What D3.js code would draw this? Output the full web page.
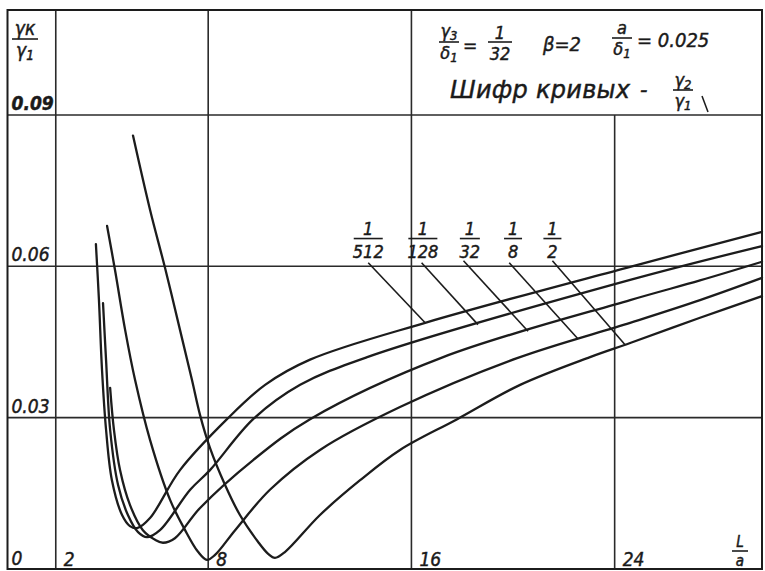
<!DOCTYPE html>
<html>
<head>
<meta charset="utf-8">
<script src="https://cdn.jsdelivr.net/npm/d3@7"></script>
<style>
  html, body { margin: 0; padding: 0; background: #fff; }
  svg { display: block; }
  text { font-family: "DejaVu Sans Condensed", "DejaVu Sans", sans-serif; font-style: italic; fill: #1a1a1a; stroke: #1a1a1a; stroke-width: 0.45px; }
</style>
</head>
<body>
<svg id="chart" width="765" height="571"></svg>
<script>
// Axis extent and grid positions (L/a horizontally, γк/γ1 vertically)
const xDomain = [0.1, 29.8];
const yDomain = [0, 0.1108];
const xGrid = [2, 8, 16];          // full-height verticals
const xGridLower = [24];           // verticals below the caption box
const yGrid = [0.03, 0.06, 0.09];
const xTickLabels = ["2", "8", "16", "24"];
const xTickValues = [2, 8, 16, 24];
const yTickLabels = ["0", "0.03", "0.06", "0.09"];
const yTickValues = [0, 0.03, 0.06, 0.09];

// Curve cipher γ2/γ1 (denominators of 1/n)
const seriesNames = ["1/512", "1/128", "1/32", "1/8", "1/2"];
const seriesDen = ["512", "128", "32", "8", "2"];

// [L/a, γк/γ1] points for each curve
const curve512 = [[3.58,0.0644],[3.70,0.0533],[3.82,0.0395],[3.98,0.0276],[4.21,0.0176],[4.61,0.0107],[4.92,0.0085],[5.20,0.0081],[5.71,0.0101],[6.89,0.0196],[8.74,0.0297],[10.24,0.0365],[12.01,0.0415],[16.54,0.0488],[24.61,0.0599],[29.8,0.0668]];
const curve128 = [[3.86,0.0527],[3.98,0.0414],[4.14,0.0276],[4.45,0.0167],[4.84,0.0107],[5.24,0.0073],[5.59,0.0063],[6.10,0.0077],[7.29,0.0157],[8.07,0.0196],[9.77,0.0297],[11.62,0.0365],[14.26,0.0420],[24.61,0.0573],[29.8,0.0640]];
const curve32 = [[4.14,0.0359],[4.29,0.0276],[4.53,0.0196],[4.92,0.0127],[5.43,0.0077],[5.91,0.0058],[6.22,0.0052],[6.69,0.0061],[7.68,0.0121],[9.77,0.0216],[12.01,0.0297],[17.25,0.0420],[24.61,0.0533],[27.36,0.0572],[29.8,0.0609]];
const curve8 = [[4.02,0.0680],[4.33,0.0593],[4.73,0.0474],[5.12,0.0375],[5.71,0.0256],[6.50,0.0137],[7.09,0.0077],[7.60,0.0034],[7.95,0.0018],[8.27,0.0028],[9.06,0.0077],[10.43,0.0157],[12.40,0.0236],[15.55,0.0321],[20.16,0.0418],[24.61,0.0488],[27.36,0.0533],[29.8,0.0577]];
const curve2 = [[5.04,0.0859],[5.71,0.0712],[6.30,0.0597],[6.89,0.0474],[7.36,0.0375],[7.68,0.0305],[8.07,0.0240],[8.66,0.0167],[9.25,0.0107],[9.96,0.0054],[10.36,0.0030],[10.63,0.0022],[11.03,0.0034],[12.40,0.0107],[13.98,0.0176],[15.55,0.0236],[17.80,0.0297],[20.28,0.0365],[23.03,0.0420],[24.61,0.0448],[27.36,0.0498],[29.8,0.0541]];
const curves = [curve512, curve128, curve32, curve8, curve2];

// Label anchors (fraction centre, bar height) and where each leader meets its curve
const labelX = [14.3, 16.45, 18.3, 20.0, 21.55];
const labelY = 0.0655;
const leaderStartX = [14.3, 16.4, 18.05, 19.85, 21.55];
const leaderStartY = [0.0607, 0.0607, 0.0611, 0.0607, 0.0611];
const leaderEndX = [16.54, 18.62, 20.59, 22.56, 24.41];

const svg = d3.select("#chart");
const x = d3.scaleLinear().domain(xDomain).range([7.5, 762]);
const y = d3.scaleLinear().domain(yDomain).range([569, 10]);
const ink = "#1c1c1c";

// Grid
const grid = svg.append("g").attr("stroke", "#2a2a2a").attr("stroke-width", 1.6);
grid.selectAll("line.gx").data(xGrid).join("line")
  .attr("x1", d => x(d)).attr("x2", d => x(d))
  .attr("y1", y(yDomain[0])).attr("y2", y(yDomain[1]));
grid.selectAll("line.gx2").data(xGridLower).join("line")
  .attr("x1", d => x(d)).attr("x2", d => x(d))
  .attr("y1", y(yDomain[0])).attr("y2", y(0.09));
grid.selectAll("line.gy").data(yGrid).join("line")
  .attr("x1", x(xDomain[0])).attr("x2", x(xDomain[1]))
  .attr("y1", d => y(d)).attr("y2", d => y(d));

// Frame
svg.append("rect")
  .attr("x", x(xDomain[0])).attr("y", y(yDomain[1]))
  .attr("width", x(xDomain[1]) - x(xDomain[0]))
  .attr("height", y(yDomain[0]) - y(yDomain[1]))
  .attr("fill", "none").attr("stroke", ink).attr("stroke-width", 2);

// Curves
const line = d3.line().x(d => x(d[0])).y(d => y(d[1])).curve(d3.curveCatmullRom.alpha(0.5));
svg.append("g").selectAll("path").data(curves).join("path")
  .attr("d", line).attr("fill", "none").attr("stroke", ink)
  .attr("stroke-width", 2.3).attr("stroke-linejoin", "round").attr("stroke-linecap", "round");

// Curve value at an x, by linear interpolation of its points
function valueAt(pts, xv) {
  for (let i = 1; i < pts.length; i++) {
    if (pts[i][0] >= xv && pts[i - 1][0] <= xv) {
      const t = (xv - pts[i - 1][0]) / (pts[i][0] - pts[i - 1][0]);
      return pts[i - 1][1] + t * (pts[i][1] - pts[i - 1][1]);
    }
  }
  return pts[pts.length - 1][1];
}

// Text with an optional lowered index, e.g. γ + 1
function indexed(sel, base, sub, fs) {
  sel.append("tspan").text(base);
  if (sub) sel.append("tspan").attr("font-size", fs * 0.72).attr("dy", fs * 0.18).text(sub);
  return sel;
}

// Stacked fraction: top over bar over bottom
function frac(g, cx, barY, top, bottom, w, fs, gapTop = 4, gapBottom = fs) {
  g.append("line").attr("x1", cx - w / 2).attr("x2", cx + w / 2)
    .attr("y1", barY).attr("y2", barY).attr("stroke", ink).attr("stroke-width", 1.6);
  const t = g.append("text").attr("x", cx).attr("y", barY - gapTop).attr("text-anchor", "middle")
    .attr("font-size", fs);
  indexed(t, top[0], top[1], fs);
  const b = g.append("text").attr("x", cx).attr("y", barY + gapBottom).attr("text-anchor", "middle")
    .attr("font-size", fs);
  indexed(b, bottom[0], bottom[1], fs);
}

// Leaders and curve labels
const lab = svg.append("g");
seriesNames.forEach((name, i) => {
  lab.append("line")
    .attr("x1", x(leaderStartX[i])).attr("y1", y(leaderStartY[i]))
    .attr("x2", x(leaderEndX[i])).attr("y2", y(valueAt(curves[i], leaderEndX[i])))
    .attr("stroke", ink).attr("stroke-width", 1.6);
  const w = Math.max(18, seriesDen[i].length * 9 + 2);
  frac(lab, x(labelX[i]), y(labelY), ["1"], [seriesDen[i]], w, 18, 4, 19);
});

// Tick labels
const tl = svg.append("g").attr("font-size", 19);
tl.selectAll("text.xt").data(xTickValues).join("text")
  .attr("x", d => x(d) + 8).attr("y", y(0) - 3).text((d, i) => xTickLabels[i]);
tl.selectAll("text.yt").data(yTickValues).join("text")
  .attr("x", x(xDomain[0]) + 4).attr("y", d => d === 0 ? y(0) - 4 : y(d) - 5)
  .attr("font-weight", d => d === 0.09 ? "bold" : null)
  .text((d, i) => yTickLabels[i]);

const ann = svg.append("g");
// Axis names
frac(ann, 25, 39, ["γк"], ["γ", "1"], 26, 19, 4, 18);
frac(ann, 740, 551, ["L"], ["a"], 16, 15, 4, 15);

// Caption box text
frac(ann, 449, 42, ["γ", "3"], ["δ", "1"], 20, 18, 5, 17);
ann.append("text").attr("x", 463).attr("y", 52).attr("font-size", 19).text("=");
frac(ann, 500, 42, ["1"], ["32"], 24, 18, 3, 18);
ann.append("text").attr("x", 543).attr("y", 51).attr("font-size", 20).text("β=2");
frac(ann, 622, 38, ["a"], ["δ", "1"], 20, 18, 4, 17);
ann.append("text").attr("x", 637).attr("y", 47).attr("font-size", 20).text("= 0.025");
ann.append("text").attr("x", 450).attr("y", 98).attr("font-size", 24)
  .style("font-family", "'DejaVu Sans', sans-serif")
  .attr("textLength", 180).attr("lengthAdjust", "spacing").text("Шифр кривых");
ann.append("text").attr("x", 640).attr("y", 97).attr("font-size", 23).text("-");
frac(ann, 683, 90, ["γ", "2"], ["γ", "1"], 20, 18, 4, 17);
ann.append("line").attr("x1", 702).attr("y1", 96).attr("x2", 708).attr("y2", 112)
  .attr("stroke", ink).attr("stroke-width", 1.5);
</script>
</body>
</html>
